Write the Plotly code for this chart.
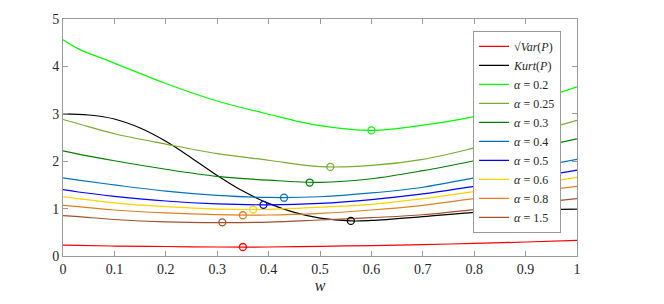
import plotly.graph_objects as go

w = [0, 0.03, 0.1, 0.2, 0.3, 0.4, 0.5, 0.6, 0.7, 0.8, 0.9, 1.0]

sqrt_var = [0.23, 0.225, 0.21, 0.20, 0.19, 0.19, 0.205, 0.22, 0.24, 0.265, 0.295, 0.33]
a02 = [4.56, 4.37, 4.07, 3.64, 3.27, 2.99, 2.75, 2.65, 2.76, 2.94, 3.22, 3.57]
a025 = [2.88, 2.79, 2.58, 2.36, 2.16, 2.02, 1.885, 1.91, 2.04, 2.28, 2.56, 2.86]
a03 = [2.22, 2.15, 2.01, 1.83, 1.68, 1.60, 1.555, 1.63, 1.80, 2.01, 2.24, 2.47]
a04 = [1.65, 1.60, 1.50, 1.37, 1.28, 1.235, 1.25, 1.33, 1.45, 1.65, 1.84, 2.04]
a05 = [1.40, 1.35, 1.26, 1.16, 1.10, 1.08, 1.11, 1.19, 1.31, 1.47, 1.63, 1.81]
a06 = [1.25, 1.21, 1.12, 1.04, 0.99, 0.985, 1.03, 1.09, 1.21, 1.36, 1.50, 1.66]
a08 = [1.07, 1.04, 0.97, 0.91, 0.875, 0.865, 0.90, 0.97, 1.07, 1.21, 1.34, 1.47]
a15 = [0.85, 0.83, 0.77, 0.72, 0.705, 0.715, 0.76, 0.81, 0.87, 0.98, 1.10, 1.21]

w_kurt = [0, 0.05, 0.1, 0.15, 0.2, 0.25, 0.3, 0.35, 0.4, 0.45, 0.5, 0.56, 0.6, 0.7, 0.8, 0.9, 1.0]
kurt = [3.0, 2.975, 2.89, 2.70, 2.42, 2.07, 1.70, 1.37, 1.11, 0.92, 0.80, 0.74, 0.75, 0.83, 0.92, 0.97, 0.99]

# minima markers (w, value)
min_w = {"var": 0.35, "kurt": 0.56, "0.2": 0.60, "0.25": 0.52, "0.3": 0.48,
         "0.4": 0.43, "0.5": 0.39, "0.6": 0.37, "0.8": 0.35, "1.5": 0.31}
min_v = {"var": 0.19, "kurt": 0.74, "0.2": 2.65, "0.25": 1.88, "0.3": 1.55,
         "0.4": 1.23, "0.5": 1.08, "0.6": 0.98, "0.8": 0.86, "1.5": 0.71}

series = [
    ("var", "√<i>Var</i>(<i>P</i>)", w, sqrt_var, "#FF0000"),
    ("kurt", "<i>Kurt</i>(<i>P</i>)", w_kurt, kurt, "#000000"),
    ("0.2", "<i>α</i> = 0.2", w, a02, "#00FF00"),
    ("0.25", "<i>α</i> = 0.25", w, a025, "#77AC30"),
    ("0.3", "<i>α</i> = 0.3", w, a03, "#008000"),
    ("0.4", "<i>α</i> = 0.4", w, a04, "#0072BD"),
    ("0.5", "<i>α</i> = 0.5", w, a05, "#0000FF"),
    ("0.6", "<i>α</i> = 0.6", w, a06, "#FFD100"),
    ("0.8", "<i>α</i> = 0.8", w, a08, "#DD8020"),
    ("1.5", "<i>α</i> = 1.5", w, a15, "#A0522D"),
]

SERIF = "Liberation Serif, Times New Roman, serif"

fig = go.Figure()
for key, name, xs, ys, col in series:
    fig.add_trace(go.Scatter(x=xs, y=ys, mode="lines", name=name,
                             line=dict(color=col, width=1.2, shape="spline", smoothing=1.0)))
for key, name, xs, ys, col in series:
    fig.add_trace(go.Scatter(x=[min_w[key]], y=[min_v[key]], mode="markers", showlegend=False,
                             marker=dict(symbol="circle-open", size=7, color=col,
                                         line=dict(width=1.3, color=col))))

axis_common = dict(showline=True, linecolor="#9a9a9a", linewidth=1, mirror="ticks",
                   ticks="inside", ticklen=5, tickcolor="#9a9a9a", showgrid=False,
                   zeroline=False, tickfont=dict(family=SERIF, size=14, color="#262626"))

fig.update_xaxes(range=[0, 1], tickvals=[0, 0.1, 0.2, 0.3, 0.4, 0.5, 0.6, 0.7, 0.8, 0.9, 1],
                 ticktext=["0", "0.1", "0.2", "0.3", "0.4", "0.5", "0.6", "0.7", "0.8", "0.9", "1"],
                 title=dict(text="<i>w</i>", font=dict(family=SERIF, size=16, color="#262626"),
                            standoff=4),
                 **axis_common)
fig.update_yaxes(range=[0, 5], tickvals=[0, 1, 2, 3, 4, 5], **axis_common)

fig.update_layout(
    width=664, height=304,
    margin=dict(l=63, r=87, t=12, b=42),
    plot_bgcolor="white", paper_bgcolor="white",
    showlegend=True,
    hovermode=False,
    legend=dict(x=0.969, y=0.95, xanchor="right", yanchor="top",
                bgcolor="white", bordercolor="#9a9a9a", borderwidth=1,
                font=dict(family=SERIF, size=12, color="#262626"),
                tracegroupgap=0, itemwidth=30),
)

fig.write_html("out.html", config={"displayModeBar": False},
               post_script="document.body.style.margin='0';")
